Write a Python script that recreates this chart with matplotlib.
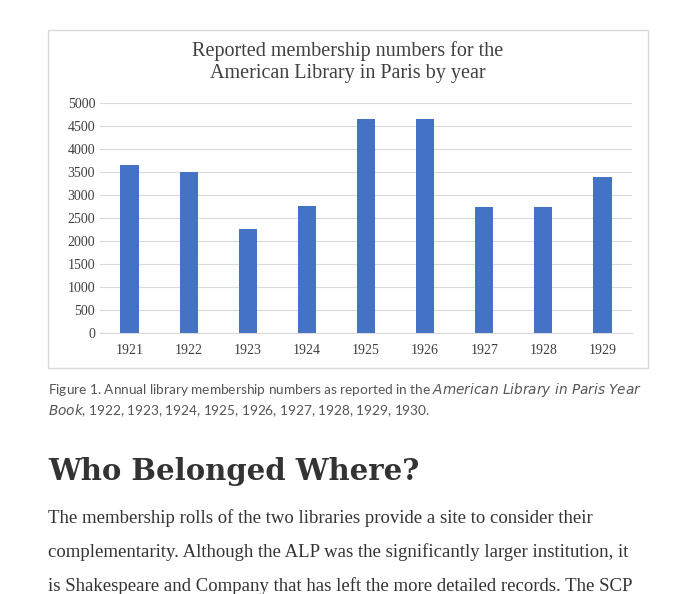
import matplotlib
matplotlib.use("Agg")
import matplotlib.pyplot as plt
from matplotlib.patches import Rectangle

years = ["1921","1922","1923","1924","1925","1926","1927","1928","1929"]
members = [3660, 3500, 2250, 2760, 4660, 4660, 2730, 2730, 3400]
yticks = [0,500,1000,1500,2000,2500,3000,3500,4000,4500,5000]

W, H = 680, 594
fig = plt.figure(figsize=(W/100, H/100), dpi=100)
fig.patch.set_facecolor("white")

# chart frame
fig.patches.append(Rectangle((48/W, 1-368/H), 600/W, 338/H, transform=fig.transFigure,
                             fill=False, edgecolor="#d9d9d9", lw=1))

ax = fig.add_axes([100/W, 1-333/H, 532/W, 230/H])
ax.bar(range(len(years)), members, width=0.31, color="#4472c4")
ax.set_ylim(0, 5000)
ax.set_xlim(-0.5, len(years)-0.5)
ax.set_yticks(yticks)
ax.set_yticklabels([str(v) for v in yticks], fontfamily="Liberation Serif", fontsize=10)
ax.set_xticks(range(len(years)))
ax.set_xticklabels(years, fontfamily="Liberation Serif", fontsize=10)
ax.yaxis.grid(True, color="#d9d9d9", lw=0.8)
ax.set_axisbelow(True)
for s in ["top","right","left"]:
    ax.spines[s].set_visible(False)
ax.spines["bottom"].set_color("#d9d9d9")
ax.tick_params(length=0, colors="#404040")
ax.tick_params(axis="x", pad=8)

fig.text(348/W, 1-62/H, "Reported membership numbers for the\nAmerican Library in Paris by year",
         ha="center", va="center", fontfamily="Liberation Serif", fontsize=14.5,
         color="#404040", linespacing=1.15)

fig.text(48/W, 1-390/H, "Figure 1. Annual library membership numbers as reported in the $\\it{American\\ Library\\ in\\ Paris\\ Year}$",
         ha="left", va="center", fontfamily="Lato", fontsize=9.8, color="#555555")
fig.text(48/W, 1-411/H, "$\\it{Book}$, 1922, 1923, 1924, 1925, 1926, 1927, 1928, 1929, 1930.",
         ha="left", va="center", fontfamily="Lato", fontsize=9.8, color="#555555")

fig.text(48/W, 1-472/H, "Who Belonged Where?", ha="left", va="center",
         fontfamily="DejaVu Serif", fontweight="bold", fontsize=21, color="#333333")

body = ["The membership rolls of the two libraries provide a site to consider their",
        "complementarity. Although the ALP was the significantly larger institution, it",
        "is Shakespeare and Company that has left the more detailed records. The SCP"]
for i, line in enumerate(body):
    fig.text(48/W, 1-(518+34*i)/H, line, ha="left", va="center",
             fontfamily="Liberation Serif", fontsize=13.5, color="#333333")

fig.savefig("out.png", dpi=100)
